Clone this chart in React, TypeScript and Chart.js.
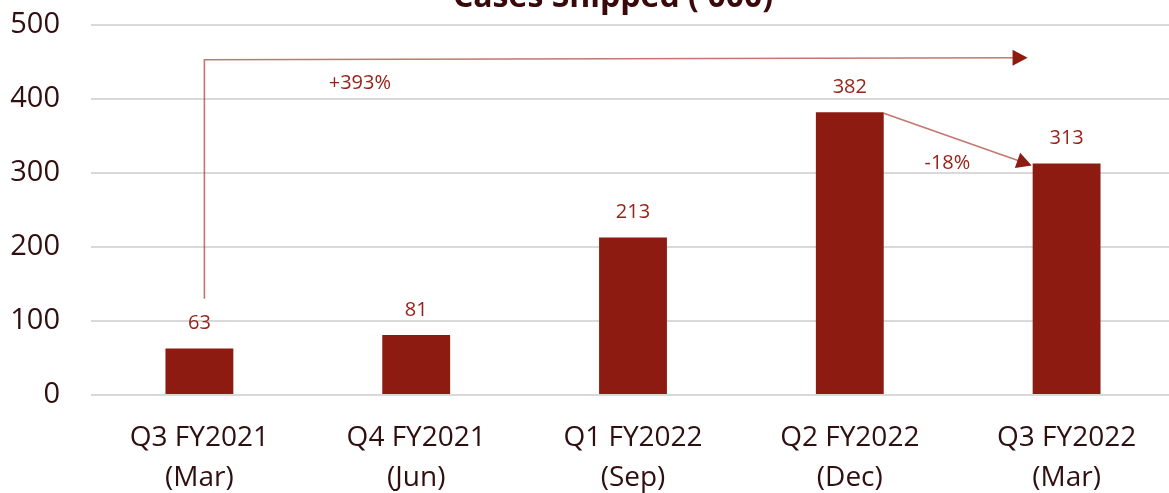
import React, { useEffect, useRef } from "react";
import { Chart, registerables } from "chart.js";

Chart.register(...registerables);

const titleText = "Cases Shipped ('000)";
const categories: string[][] = [
  ["Q3 FY2021", "(Mar)"],
  ["Q4 FY2021", "(Jun)"],
  ["Q1 FY2022", "(Sep)"],
  ["Q2 FY2022", "(Dec)"],
  ["Q3 FY2022", "(Mar)"],
];
const shipped: number[] = [63, 81, 213, 382, 313];
const yMin = 0;
const yMax = 500;
const yStep = 100;

// growth annotation: vertical from (index, value) up to top value, then across to end index
const growthLabel = "+393%";
const growthStartIndex = 0.023;
const growthEndIndex = 3.82;
const growthBottomValue = 130;
const growthTopValue = 453;
const growthLabelIndex = 0.74;
const growthLabelValue = 421;

// drop annotation between bar 3 and bar 4
const dropLabel = "-18%";
const dropFrom = 3;
const dropTo = 4;
const dropLabelIndex = 3.45;
const dropLabelValue = 313;

const BAR = "#8d1b12";
const LABEL = "#97231a";
const TEXT = "#2f0f10";
const ARROW_LINE = "rgba(165,45,35,0.65)";
const FONT = "'Open Sans', 'DejaVu Sans', sans-serif";

function arrowHead(ctx: CanvasRenderingContext2D, x1: number, y1: number, x2: number, y2: number, len: number, half: number) {
  const a = Math.atan2(y2 - y1, x2 - x1);
  const bx = x2 - len * Math.cos(a);
  const by = y2 - len * Math.sin(a);
  ctx.beginPath();
  ctx.moveTo(x2, y2);
  ctx.lineTo(bx + half * Math.sin(a), by - half * Math.cos(a));
  ctx.lineTo(bx - half * Math.sin(a), by + half * Math.cos(a));
  ctx.closePath();
  ctx.fillStyle = BAR;
  ctx.fill();
}

const annotationPlugin = {
  id: "annotations",
  afterDatasetsDraw(chart: any) {
    const ctx: CanvasRenderingContext2D = chart.ctx;
    const xs = chart.scales.x;
    const ys = chart.scales.y;
    const meta = chart.getDatasetMeta(0);
    ctx.save();

    // title (cut off at top as in reference)
    ctx.fillStyle = "#3a0a0b";
    ctx.font = `bold 32px ${FONT}`;
    ctx.textAlign = "center";
    ctx.textBaseline = "alphabetic";
    ctx.fillText(titleText, (chart.chartArea.left + chart.chartArea.right) / 2 - 20, 7);

    // data labels
    ctx.font = `20px ${FONT}`;
    ctx.fillStyle = LABEL;
    ctx.textBaseline = "middle";
    meta.data.forEach((bar: any, i: number) => {
      ctx.fillText(String(shipped[i]), bar.x, bar.y - 25);
    });

    // growth arrow
    const gx0 = xs.getPixelForValue(growthStartIndex);
    const gy0 = ys.getPixelForValue(growthBottomValue);
    const gyTop = ys.getPixelForValue(growthTopValue);
    const gx1 = xs.getPixelForValue(growthEndIndex);
    const gy1 = gyTop - 2;
    ctx.strokeStyle = ARROW_LINE;
    ctx.lineWidth = 1.6;
    ctx.beginPath();
    ctx.moveTo(gx0, gy0);
    ctx.lineTo(gx0, gyTop);
    ctx.lineTo(gx1 - 10, gy1);
    ctx.stroke();
    arrowHead(ctx, gx0, gyTop, gx1, gy1, 15, 8);

    ctx.fillStyle = LABEL;
    ctx.fillText(growthLabel, xs.getPixelForValue(growthLabelIndex), ys.getPixelForValue(growthLabelValue));

    // drop arrow
    const b3 = meta.data[dropFrom];
    const b4 = meta.data[dropTo];
    const dx0 = b3.x + b3.width / 2;
    const dy0 = b3.y + 1;
    const dx1 = b4.x - b4.width / 2 - 1;
    const dy1 = b4.y + 2;
    ctx.strokeStyle = ARROW_LINE;
    ctx.beginPath();
    ctx.moveTo(dx0, dy0);
    const ang = Math.atan2(dy1 - dy0, dx1 - dx0);
    ctx.lineTo(dx1 - 10 * Math.cos(ang), dy1 - 10 * Math.sin(ang));
    ctx.stroke();
    arrowHead(ctx, dx0, dy0, dx1, dy1, 15, 8);

    ctx.fillStyle = LABEL;
    ctx.fillText(dropLabel, xs.getPixelForValue(dropLabelIndex), ys.getPixelForValue(dropLabelValue));

    ctx.restore();
  },
};

export default function App() {
  const ref = useRef<HTMLCanvasElement | null>(null);
  useEffect(() => {
    if (!ref.current) return;
    const chart = new Chart(ref.current, {
      type: "bar",
      data: {
        labels: categories,
        datasets: [
          {
            data: shipped,
            backgroundColor: BAR,
            borderWidth: 0,
            categoryPercentage: 1,
            barPercentage: 0.313,
          },
        ],
      },
      options: {
        animation: false,
        responsive: false,
        devicePixelRatio: 1,
        layout: { padding: { left: 10, right: 1, top: 25, bottom: 0 } },
        plugins: {
          legend: { display: false },
          tooltip: { enabled: false },
          title: { display: false },
        },
        scales: {
          x: {
            grid: { display: false, drawTicks: false },
            border: { display: false },
            ticks: {
              color: TEXT,
              font: { family: FONT, size: 28, lineHeight: 40 / 28 },
              padding: 23,
              maxRotation: 0,
              autoSkip: false,
            },
            afterFit: (s: any) => {
              s.height = 98;
              s.paddingLeft = 0;
              s.paddingRight = 0;
            },
          },
          y: {
            min: yMin,
            max: yMax,
            grid: { color: "#d9d9d9", lineWidth: 2, drawTicks: false },
            border: { display: false },
            ticks: {
              stepSize: yStep,
              color: TEXT,
              font: { family: FONT, size: 29 },
              padding: 31,
            },
            afterFit: (s: any) => {
              s.width = 81;
              s.paddingTop = 0;
              s.paddingBottom = 0;
            },
          },
        },
      },
      plugins: [annotationPlugin],
    });
    return () => chart.destroy();
  }, []);
  return (
    <div style={{ position: "absolute", left: 0, top: 0, width: 1169, height: 493, overflow: "hidden", background: "#fff" }}>
      <canvas ref={ref} width={1176} height={493} style={{ display: "block", width: 1176, height: 493 }} />
    </div>
  );
}
